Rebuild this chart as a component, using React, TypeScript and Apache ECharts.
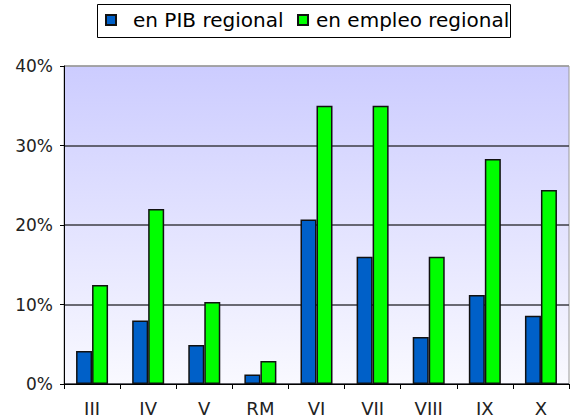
import React, { useEffect, useRef } from "react";
import * as echarts from "echarts";

const categories = ["III", "IV", "V", "RM", "VI", "VII", "VIII", "IX", "X"];
const pibRegional = [4.15, 8.0, 4.9, 1.2, 20.7, 16.0, 5.9, 11.2, 8.6];
const empleoRegional = [12.45, 22.0, 10.3, 2.9, 35.0, 35.0, 16.0, 28.3, 24.4];
const seriesNames = ["en PIB regional", "en empleo regional"];

const FONT = "DejaVu Sans";

export default function App() {
  const ref = useRef<HTMLDivElement>(null);
  useEffect(() => {
    if (!ref.current) return;
    const chart = echarts.init(ref.current, undefined, { renderer: "svg" });
    chart.setOption({
      animation: false,
      backgroundColor: "#ffffff",
      graphic: [
        {
          type: "rect",
          z: 0,
          shape: { x: 97.5, y: 4.5, width: 413, height: 33 },
          style: { fill: "#ffffff", stroke: "#000000", lineWidth: 1 },
        },
      ],
      legend: [
        {
          data: [seriesNames[0]],
          left: 105,
          top: 10,
          padding: 0,
          itemWidth: 10,
          itemHeight: 10,
          icon: "rect",
          textStyle: {
            fontFamily: FONT,
            fontSize: 20,
            color: "#000",
            lineHeight: 20,
            padding: [0, 0, 0, 12],
          },
        },
        {
          data: [seriesNames[1]],
          left: 297,
          top: 10,
          padding: 0,
          itemWidth: 10,
          itemHeight: 10,
          icon: "rect",
          textStyle: {
            fontFamily: FONT,
            fontSize: 20,
            color: "#000",
            lineHeight: 20,
            padding: [0, 0, 0, 3],
          },
        },
      ],
      grid: {
        left: 64,
        top: 66,
        right: 1,
        bottom: 36,
        show: true,
        borderColor: "#9a9a9a",
        borderWidth: 1,
        backgroundColor: {
          type: "linear",
          x: 0,
          y: 0,
          x2: 0,
          y2: 1,
          colorStops: [
            { offset: 0, color: "#ccccff" },
            { offset: 1, color: "#f9f9ff" },
          ],
        },
      },
      xAxis: {
        type: "category",
        data: categories,
        axisLine: { show: true, lineStyle: { color: "#000", width: 1 } },
        axisTick: { show: true, interval: 0, length: 5, lineStyle: { color: "#000" } },
        axisLabel: {
          fontFamily: FONT,
          fontSize: 18,
          color: "#222",
          margin: 15,
          interval: 0,
        },
      },
      yAxis: {
        type: "value",
        min: 0,
        max: 40,
        interval: 10,
        axisLine: { show: true, lineStyle: { color: "#000", width: 1 } },
        axisTick: { show: true, length: 4, lineStyle: { color: "#000" } },
        axisLabel: {
          fontFamily: FONT,
          fontSize: 17,
          color: "#222",
          margin: 11,
          formatter: "{value}%",
        },
        splitLine: {
          show: true,
          lineStyle: {
            color: ["#3c3c44", "#3c3c44", "#3c3c44", "#3c3c44", "#9a9a9a"],
            width: 1.5,
          },
        },
      },
      series: [
        {
          name: seriesNames[0],
          type: "bar",
          data: pibRegional,
          barWidth: 16,
          barGap: "0%",
          itemStyle: { color: "#0060c8", borderColor: "#111", borderWidth: 1.5 },
        },
        {
          name: seriesNames[1],
          type: "bar",
          data: empleoRegional,
          barWidth: 16,
          barGap: "0%",
          itemStyle: { color: "#00ff00", borderColor: "#111", borderWidth: 1.5 },
        },
      ],
    });
    return () => chart.dispose();
  }, []);
  return (
    <div
      ref={ref}
      style={{ position: "fixed", left: 0, top: 0, width: 570, height: 420 }}
    />
  );
}
